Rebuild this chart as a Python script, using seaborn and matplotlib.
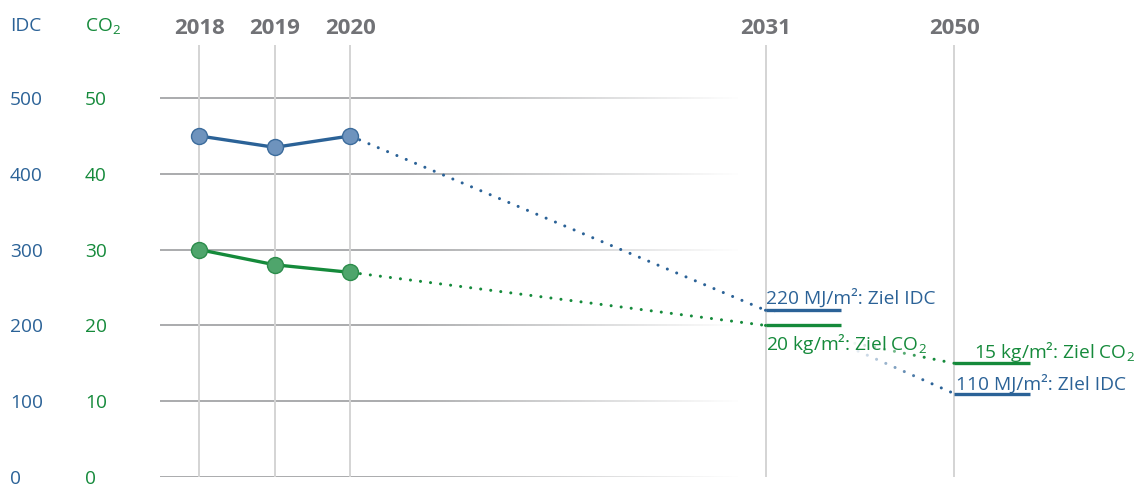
import numpy as np
import pandas as pd
import matplotlib
matplotlib.use("Agg")
import matplotlib.pyplot as plt
import seaborn as sns
from matplotlib.collections import LineCollection
from matplotlib.transforms import blended_transform_factory

# ---------------- data ----------------
years = [2018, 2019, 2020]
idc_values = [450, 435, 450]
co2_values = [30, 28, 27]
target_years = [2031, 2050]
idc_targets = [220, 110]
co2_targets = [20, 15]
idc_ticks = [0, 100, 200, 300, 400, 500]
co2_ticks = [0, 10, 20, 30, 40, 50]
all_years = [2018, 2019, 2020, 2031, 2050]
year_labels = ["2018", "2019", "2020", "2031", "2050"]
idc_target_labels = ["220 MJ/m²: Ziel IDC", "110 MJ/m²: ZIel IDC"]
co2_target_labels = ["20 kg/m²: Ziel CO$_\\mathregular{2}$", "15 kg/m²: Ziel CO$_\\mathregular{2}$"]
CO2_FACTOR = 10  # CO2 axis shares the IDC axis at 1:10

# ---------------- style ----------------
sns.set_style("white")
plt.rcParams["font.family"] = ["Open Sans", "DejaVu Sans"]
plt.rcParams["mathtext.fontset"] = "custom"
plt.rcParams["mathtext.rm"] = "Open Sans"
plt.rcParams["mathtext.it"] = "Open Sans:italic"
plt.rcParams["mathtext.bf"] = "Open Sans:bold"

BLUE = "#2b6297"
GREEN = "#158a3b"
BLUE_FILL = "#6e93bd"
BLUE_EDGE = "#3c6c9c"
GREEN_FILL = "#4fa56c"
GREEN_EDGE = "#2c8c4b"
GRAY_TXT = "#717276"
GRID_H = "#9c9d9f"
GRID_V = "#d4d4d4"
FS = 13.8
TFS = 13.8

# piecewise-linear time axis (uneven spacing like the reference)
bp_years = np.array([2017, 2018, 2019, 2020, 2031, 2050, 2069], float)
bp_pos = np.array([-1, 0, 1, 2, 7.5, 10, 12.5], float)


def fwd(x):
    return np.interp(x, bp_years, bp_pos)


def inv(u):
    return np.interp(u, bp_pos, bp_years)


fig = plt.figure(figsize=(11.43, 4.86), dpi=100)
ax = fig.add_axes([160 / 1143, 1 - 477 / 486, 1 - 160 / 1143, (477 - 45) / 486])
ax.set_xscale("function", functions=(fwd, inv))
ax.set_xlim(inv(-0.52), inv(12.5))
ax.set_ylim(0, 570)
for s in ax.spines.values():
    s.set_visible(False)

# horizontal fading gridlines
tr_blend = blended_transform_factory(ax.transAxes, ax.transData)
n = 200
xs = np.linspace(0, 0.6, n + 1)
for v in idc_ticks:
    segs = [[(xs[i], v), (xs[i + 1], v)] for i in range(n)]
    mid = (xs[:-1] + xs[1:]) / 2
    alpha = np.clip((0.59 - mid) / (0.59 - 0.25), 0, 1)
    rgba = np.array([matplotlib.colors.to_rgba(GRID_H)] * n)
    rgba[:, 3] = alpha
    lc = LineCollection(segs, colors=rgba, linewidths=1.2, transform=tr_blend, zorder=1)
    ax.add_collection(lc)

# vertical gridlines
for y in all_years:
    ax.axvline(y, color=GRID_V, lw=1.4, zorder=1)

# data series
df = pd.DataFrame({
    "year": years * 2,
    "value": idc_values + [c * CO2_FACTOR for c in co2_values],
    "series": ["IDC"] * len(years) + ["CO2"] * len(years),
})
sns.lineplot(data=df[df.series == "IDC"], x="year", y="value", color=BLUE, lw=2.4,
             marker="o", markersize=11.5, markerfacecolor=BLUE_FILL,
             markeredgecolor=BLUE_EDGE, markeredgewidth=1.0, ax=ax, zorder=5)
sns.lineplot(data=df[df.series == "CO2"], x="year", y="value", color=GREEN, lw=2.4,
             marker="o", markersize=11.5, markerfacecolor=GREEN_FILL,
             markeredgecolor=GREEN_EDGE, markeredgewidth=1.0, ax=ax, zorder=5)

dot_style = (0, (0.01, 3.3))
# dotted projections 2020 -> 2031 -> 2050
ax.plot([years[-1], target_years[0]], [idc_values[-1], idc_targets[0]], color=BLUE,
        lw=2.2, ls=dot_style, dash_capstyle="round", zorder=2)
ax.plot([years[-1], target_years[0]], [co2_values[-1] * CO2_FACTOR, co2_targets[0] * CO2_FACTOR],
        color=GREEN, lw=2.2, ls=dot_style, dash_capstyle="round", zorder=2)
ax.plot(target_years, idc_targets, color=BLUE, lw=2.2, ls=dot_style,
        dash_capstyle="round", zorder=2)
ax.plot(target_years, [c * CO2_FACTOR for c in co2_targets], color=GREEN, lw=2.2,
        ls=dot_style, dash_capstyle="round", zorder=2)

# white fade over the start of the 2031 -> 2050 projections
gx = np.linspace(0, 1, 256)
a = np.clip((0.78 - (0.62 + gx * (0.78 - 0.62))) / (0.78 - 0.70), 0, 1)
grad = np.ones((1, 256, 4))
grad[0, :, 3] = a
ax.imshow(grad, extent=(0.621, 0.78, 95 / 570, 216 / 570), transform=ax.transAxes,
          aspect="auto", zorder=3, interpolation="bilinear")
ax.set_xlim(inv(-0.52), inv(12.5))
ax.set_ylim(0, 570)

# target lines and labels
for ty, iv, cv in zip(target_years, idc_targets, co2_targets):
    xe = inv(fwd(ty) + 1.0)
    ax.plot([ty, xe], [iv, iv], color=BLUE, lw=2.4, zorder=4, solid_capstyle="butt")
    ax.plot([ty, xe], [cv * CO2_FACTOR] * 2, color=GREEN, lw=2.4, zorder=4,
            solid_capstyle="butt")

ax.annotate(idc_target_labels[0], (target_years[0], idc_targets[0]), xytext=(0.5, 5),
            textcoords="offset points", ha="left", va="baseline", color=BLUE,
            fontsize=FS, zorder=6)
ax.annotate(co2_target_labels[0], (target_years[0], co2_targets[0] * CO2_FACTOR),
            xytext=(0.5, -4.5), textcoords="offset points", ha="left", va="top",
            color=GREEN, fontsize=FS, zorder=6)
ax.annotate(co2_target_labels[1], (target_years[1], co2_targets[1] * CO2_FACTOR),
            xytext=(14, 3.5), textcoords="offset points", ha="left", va="baseline",
            color=GREEN, fontsize=FS, zorder=6)
ax.annotate(idc_target_labels[1], (target_years[1], idc_targets[1]), xytext=(1.5, 3),
            textcoords="offset points", ha="left", va="baseline", color=BLUE,
            fontsize=FS, zorder=6)

# top year labels
ax.xaxis.tick_top()
ax.set_xticks(all_years)
ax.set_xticklabels(year_labels, fontsize=16, fontweight="bold", color=GRAY_TXT)
ax.tick_params(axis="x", length=0, pad=4)
ax.set_xlabel("")

# y tick labels (IDC and CO2)
ax.set_yticks(idc_ticks)
ax.set_yticklabels([str(t) for t in idc_ticks], color=BLUE, fontsize=TFS, ha="left")
ax.tick_params(axis="y", length=0, pad=108)
ax.set_ylabel("")
sec = ax.secondary_yaxis("left", functions=(lambda y: y / CO2_FACTOR, lambda y: y * CO2_FACTOR))
sec.set_yticks(co2_ticks)
sec.set_yticklabels([str(t) for t in co2_ticks], color=GREEN, fontsize=TFS, ha="left")
sec.tick_params(axis="y", length=0, pad=54)
for s in sec.spines.values():
    s.set_visible(False)

fig.text(10 / 1143, 1 - 26 / 486, "IDC", color=BLUE, fontsize=TFS, ha="left", va="center")
fig.text(85 / 1143, 1 - 26 / 486, "CO$_\\mathregular{2}$", color=GREEN, fontsize=TFS,
         ha="left", va="center")

fig.savefig("out.png", dpi=100)
